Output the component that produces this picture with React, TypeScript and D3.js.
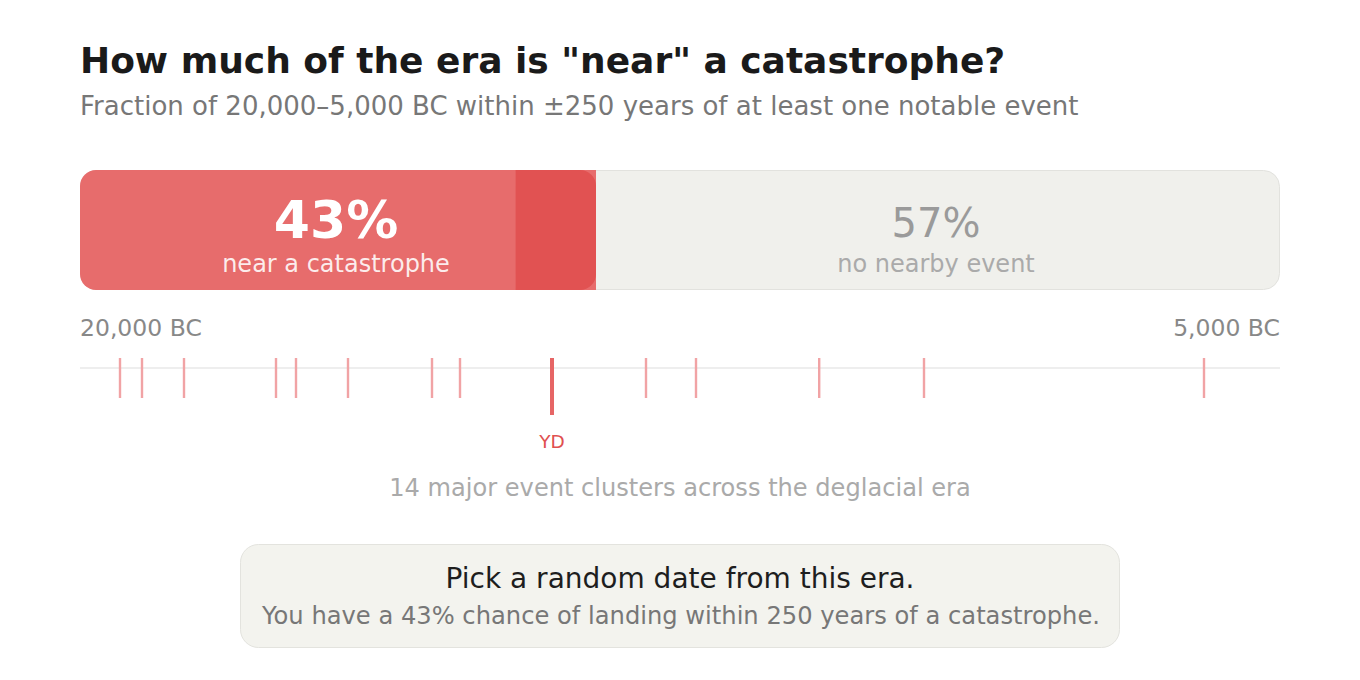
import React, { useEffect, useRef } from 'react';
import * as d3 from 'd3';

// Era bounds (years BC) and the proximity window
const ERA_START = 20000;
const ERA_END = 5000;
const WINDOW_YEARS = 250;

// Share of the era near an event, split in two bands as drawn
const nearBands = [0.363, 0.067];
const nearTotal = 0.43;
const farShare = 0.57;

// Notable event clusters, years BC
const eventYears = [19500, 19225, 18700, 17550, 17300, 16650, 15600, 15250, 14100, 12925, 12300, 10760, 9450, 5950];
const highlightYear = 14100;
const highlightLabel = 'YD';

const W = 1360;
const H = 680;
const FONT = '"DejaVu Sans", Verdana, sans-serif';

const App: React.FC = () => {
  const svgRef = useRef<SVGSVGElement>(null);

  useEffect(() => {
    if (!svgRef.current) return;
    const svg = d3.select(svgRef.current);
    svg.selectAll('*').remove();

    const left = 80;
    const right = 1280;

    // Title block
    svg.append('text')
      .attr('x', left).attr('y', 73)
      .attr('font-size', 36).attr('font-weight', 'bold')
      .attr('fill', '#1a1a1a')
      .text('How much of the era is "near" a catastrophe?');

    svg.append('text')
      .attr('x', left).attr('y', 115)
      .attr('font-size', 26)
      .attr('fill', '#777')
      .text(`Fraction of 20,000–5,000 BC within ±${WINDOW_YEARS} years of at least one notable event`);

    // Share bar
    const barY = 170;
    const barH = 120;
    const r = 16;
    const share = d3.scaleLinear().domain([0, 1]).range([left, right]);

    const defs = svg.append('defs');
    defs.append('clipPath').attr('id', 'trackClip')
      .append('rect')
      .attr('x', left).attr('y', barY)
      .attr('width', right - left).attr('height', barH)
      .attr('rx', r);

    svg.append('rect')
      .attr('x', left + 0.5).attr('y', barY + 0.5)
      .attr('width', right - left - 1).attr('height', barH - 1)
      .attr('rx', r)
      .attr('fill', '#f0f0ec')
      .attr('stroke', '#e2e2de');

    const bandColors = ['#e76c6c', '#e15252'];
    let acc = 0;
    const bands = nearBands.map((v, i) => {
      const b = { x0: acc, x1: acc + v, color: bandColors[i] };
      acc += v;
      return b;
    });

    // first band: full red area, square at its right end
    svg.append('rect')
      .attr('clip-path', 'url(#trackClip)')
      .attr('x', share(0)).attr('y', barY)
      .attr('width', share(nearTotal) - share(0)).attr('height', barH)
      .attr('fill', bands[0].color);

    // second band: rounded on the right
    const bx0 = share(bands[1].x0);
    const bx1 = share(bands[1].x1);
    const p = d3.path();
    p.moveTo(bx0, barY);
    p.lineTo(bx1 - r, barY);
    p.arcTo(bx1, barY, bx1, barY + r, r);
    p.lineTo(bx1, barY + barH - r);
    p.arcTo(bx1, barY + barH, bx1 - r, barY + barH, r);
    p.lineTo(bx0, barY + barH);
    p.closePath();
    svg.append('path').attr('d', p.toString()).attr('fill', bands[1].color);

    const nearCx = (share(0) + share(nearTotal)) / 2;
    const farCx = (share(nearTotal) + share(1)) / 2;

    svg.append('text')
      .attr('x', nearCx - 2).attr('y', 238)
      .attr('text-anchor', 'middle')
      .attr('font-size', 52).attr('font-weight', 'bold')
      .attr('fill', '#fff')
      .text(`${Math.round(nearTotal * 100)}%`);
    svg.append('text')
      .attr('x', nearCx - 2).attr('y', 272)
      .attr('text-anchor', 'middle')
      .attr('font-size', 24)
      .attr('fill', '#fff').attr('fill-opacity', 0.88)
      .text('near a catastrophe');

    svg.append('text')
      .attr('x', farCx - 2).attr('y', 237)
      .attr('text-anchor', 'middle')
      .attr('font-size', 40)
      .attr('fill', '#9a9a9a')
      .text(`${Math.round(farShare * 100)}%`);
    svg.append('text')
      .attr('x', farCx - 2).attr('y', 272)
      .attr('text-anchor', 'middle')
      .attr('font-size', 24)
      .attr('fill', '#aaa')
      .text('no nearby event');

    // Timeline strip
    const x = d3.scaleLinear().domain([ERA_START, ERA_END]).range([left, right]);

    svg.append('text')
      .attr('x', x(ERA_START)).attr('y', 336)
      .attr('font-size', 23.5).attr('fill', '#888')
      .text(`${d3.format(',')(ERA_START)} BC`);
    svg.append('text')
      .attr('x', x(ERA_END)).attr('y', 336)
      .attr('text-anchor', 'end')
      .attr('font-size', 23.5).attr('fill', '#888')
      .text(`${d3.format(',')(ERA_END)} BC`);

    const lineY = 368;
    svg.append('line')
      .attr('x1', x(ERA_START)).attr('x2', x(ERA_END))
      .attr('y1', lineY).attr('y2', lineY)
      .attr('stroke', '#eeeeee').attr('stroke-width', 2);

    svg.selectAll('.evt')
      .data(eventYears)
      .enter()
      .append('line')
      .attr('class', 'evt')
      .attr('x1', d => x(d)).attr('x2', d => x(d))
      .attr('y1', 358)
      .attr('y2', d => (d === highlightYear ? 415 : 398))
      .attr('stroke', d => (d === highlightYear ? '#e66565' : '#f1a3a5'))
      .attr('stroke-width', d => (d === highlightYear ? 4 : 2.4));

    svg.append('text')
      .attr('x', x(highlightYear)).attr('y', 448)
      .attr('text-anchor', 'middle')
      .attr('font-size', 18.5).attr('fill', '#e05050')
      .text(highlightLabel);

    svg.append('text')
      .attr('x', W / 2).attr('y', 496)
      .attr('text-anchor', 'middle')
      .attr('font-size', 24.1).attr('fill', '#aaa')
      .text(`${eventYears.length} major event clusters across the deglacial era`);

    // Callout box
    svg.append('rect')
      .attr('x', 240.5).attr('y', 544.5)
      .attr('width', 879).attr('height', 103)
      .attr('rx', 18)
      .attr('fill', '#f3f3ee')
      .attr('stroke', '#e3e3de');

    svg.append('text')
      .attr('x', W / 2).attr('y', 588)
      .attr('text-anchor', 'middle')
      .attr('font-size', 28).attr('fill', '#1e1e1e')
      .text('Pick a random date from this era.');
    svg.append('text')
      .attr('x', W / 2 + 1).attr('y', 624)
      .attr('text-anchor', 'middle')
      .attr('font-size', 24.2).attr('fill', '#777')
      .text(`You have a ${Math.round(nearTotal * 100)}% chance of landing within ${WINDOW_YEARS} years of a catastrophe.`);
  }, []);

  return (
    <div style={{ position: 'absolute', left: 0, top: 0, background: '#fff' }}>
      <svg ref={svgRef} width={W} height={H} style={{ display: 'block', fontFamily: FONT }} />
    </div>
  );
};

export default App;
